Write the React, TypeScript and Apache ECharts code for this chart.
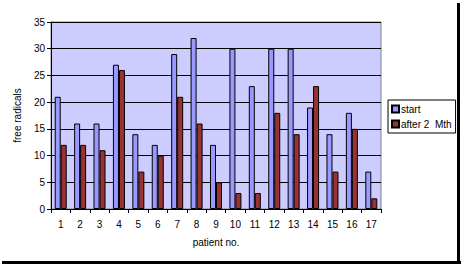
import React, { useEffect, useRef } from "react";
import * as echarts from "echarts";

const categories = ["1","2","3","4","5","6","7","8","9","10","11","12","13","14","15","16","17"];
const startValues = [21,16,16,27,14,12,29,32,12,30,23,30,30,19,14,18,7];
const afterValues = [12,12,11,26,7,10,21,16,5,3,3,18,14,23,7,15,2];
const seriesNames = ["start", "after 2  Mth"];

export default function App() {
  const ref = useRef<HTMLDivElement>(null);
  useEffect(() => {
    document.body.style.margin = "0";
    const chart = echarts.init(ref.current!, undefined, { renderer: "svg" });
    const font = "Liberation Sans, Arial, sans-serif";
    chart.setOption({
      animation: false,
      backgroundColor: "#ffffff",
      textStyle: { fontFamily: font },
      grid: {
        left: 51, top: 22, width: 330, height: 187,
        show: true, backgroundColor: "#CCCCFF", borderColor: "#808080", borderWidth: 1,
      },
      legend: {
        orient: "vertical",
        left: 388, top: 100,
        padding: [4, 4, 4, 3],
        itemGap: 5,
        itemWidth: 7, itemHeight: 7,
        backgroundColor: "#ffffff",
        borderColor: "#000000", borderWidth: 1,
        borderRadius: 0,
        icon: "rect",
        textStyle: { fontSize: 10, color: "#000", fontFamily: font, padding: [0, 0, 0, -3] },
        data: seriesNames,
      },
      xAxis: {
        type: "category",
        data: categories,
        name: "patient no.",
        nameLocation: "middle",
        nameGap: 28,
        nameTextStyle: { fontSize: 10, color: "#000" },
        axisLine: { lineStyle: { color: "#000", width: 1 } },
        axisTick: { show: true, alignWithLabel: false, length: 4, lineStyle: { color: "#000" } },
        axisLabel: { fontSize: 10, color: "#000", margin: 10 },
      },
      yAxis: {
        type: "value",
        min: 0, max: 35, interval: 5,
        name: "free radicals",
        nameLocation: "middle",
        nameGap: 25,
        nameTextStyle: { fontSize: 10, color: "#000" },
        axisLine: { show: true, lineStyle: { color: "#000", width: 1 } },
        axisTick: { show: true, length: 4, lineStyle: { color: "#000" } },
        axisLabel: { fontSize: 10, color: "#000", margin: 6 },
        splitLine: { show: true, lineStyle: { color: "#000", width: 1 } },
      },
      series: [
        {
          name: seriesNames[0], type: "bar", data: startValues,
          barWidth: 6, barGap: "0%",
          itemStyle: { color: "#9999FF", borderColor: "#000", borderWidth: 1 },
        },
        {
          name: seriesNames[1], type: "bar", data: afterValues,
          barWidth: 6, barGap: "0%",
          itemStyle: { color: "#993333", borderColor: "#000", borderWidth: 1 },
        },
      ],
      graphic: [
        { type: "rect", shape: { x: 457, y: 3, width: 3, height: 261 }, style: { fill: "#000" } },
        { type: "rect", shape: { x: 2, y: 261, width: 459, height: 3 }, style: { fill: "#000" } },
      ],
    });
    return () => chart.dispose();
  }, []);
  return <div ref={ref} style={{ position: "absolute", left: 0, top: 0, width: 461, height: 264 }} />;
}
